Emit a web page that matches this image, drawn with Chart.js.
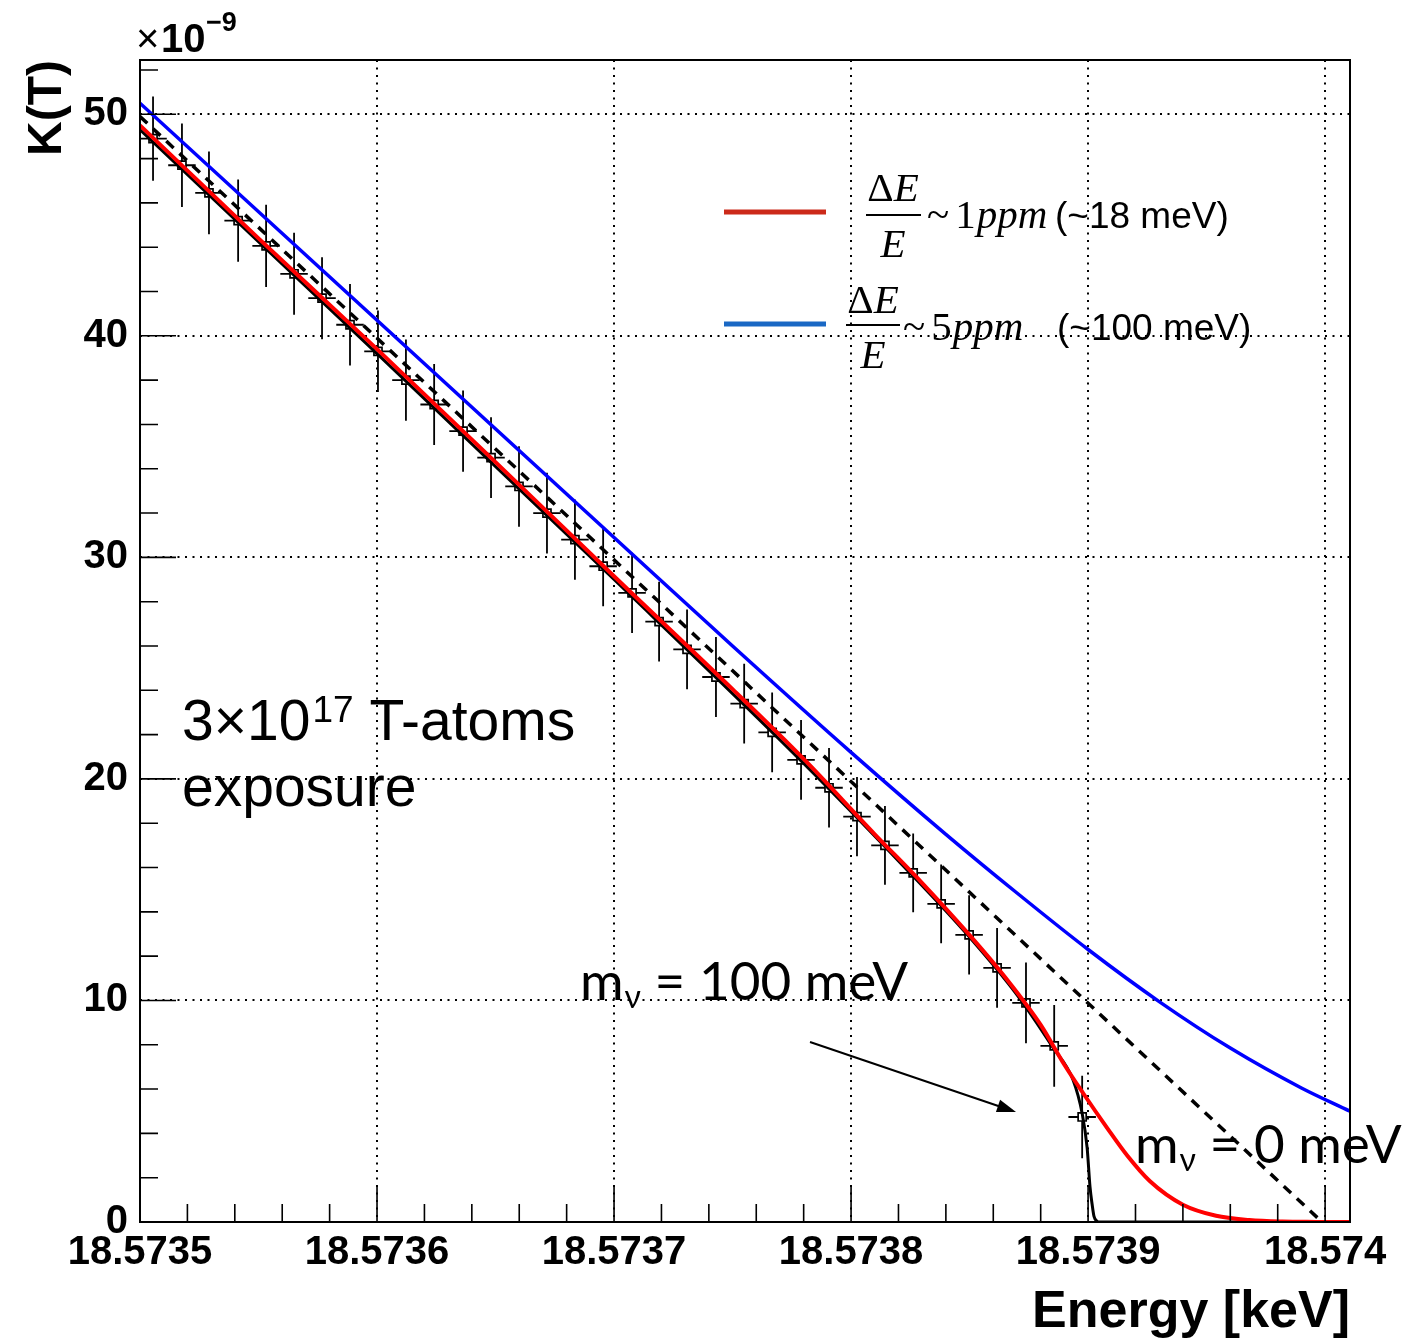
<!DOCTYPE html>
<html>
<head>
<meta charset="utf-8">
<script src="https://cdn.jsdelivr.net/npm/chart.js@4.4.0/dist/chart.umd.min.js"></script>
<style>
  html, body { margin: 0; padding: 0; background: #fff; }
  #wrap { width: 1407px; height: 1339px; }
</style>
</head>
<body>
<div id="wrap"><canvas id="kurie" width="1407" height="1339"></canvas></div>
<script>
// simulated data points (bin centre energy in keV, K(T) in units of 1e-9)
const binEnergy = [
  18.5735055, 18.5735177, 18.5735291, 18.5735414, 18.5735532, 18.5735650,
  18.5735768, 18.5735886, 18.5736004, 18.5736122, 18.5736241, 18.5736363,
  18.5736481, 18.5736599, 18.5736717, 18.5736835, 18.5736954, 18.5737076,
  18.5737190, 18.5737308, 18.5737430, 18.5737549, 18.5737667, 18.5737789,
  18.5737907, 18.5738025, 18.5738143, 18.5738262, 18.5738380, 18.5738498,
  18.5738616, 18.5738738, 18.5738857, 18.5738975
];
const binContent = [
  48.9, 47.7, 46.45, 45.2, 44.06, 42.8, 41.7, 40.5, 39.3, 38.0, 36.9, 35.7,
  34.5, 33.2, 32.0, 30.8, 29.6, 28.4, 27.1, 25.85, 24.6, 23.4, 22.1, 20.86,
  19.6, 18.3, 17.0, 15.76, 14.36, 12.96, 11.47, 9.89, 7.95, 4.74
];
const binError = [
  1.9, 1.88, 1.87, 1.86, 1.86, 1.85, 1.85, 1.84, 1.84, 1.83, 1.83, 1.83,
  1.82, 1.82, 1.82, 1.81, 1.81, 1.81, 1.8, 1.8, 1.8, 1.8, 1.8, 1.8,
  1.79, 1.79, 1.78, 1.78, 1.78, 1.79, 1.8, 1.82, 1.84, 1.86
];
const binHalfWidth = 0.0000058;

// m = 0 meV, no smearing (dashed)
const m0Energy = [18.5735, 18.5739987];
const m0K = [49.9, 0];

// m = 100 meV, no smearing (black)
const m100Energy = [
  18.5735, 18.5736, 18.5737, 18.57378, 18.57382, 18.57385, 18.57387,
  18.573885, 18.5738937, 18.5738975, 18.5738996, 18.5739008, 18.5739017,
  18.5739025, 18.5739038, 18.5739046, 18.5740105
];
const m100K = [
  49.3, 39.2, 29.0, 20.7, 16.3, 12.85, 10.25, 7.9, 6.4, 4.9, 3.35, 1.6,
  0.8, 0.25, 0.03, 0, 0
];

// dE/E ~ 1 ppm (red)
const res1Energy = [
  18.5735, 18.57355, 18.5736, 18.57365, 18.5737, 18.57375, 18.57378,
  18.57381, 18.57383, 18.57385, 18.573865, 18.57388, 18.57389, 18.573898,
  18.573908, 18.5739165, 18.573926, 18.57394, 18.573954, 18.573968,
  18.573982, 18.573996, 18.5740105
];
const res1K = [
  49.5, 44.4, 39.4, 34.3, 29.15, 24.05, 20.9, 17.5, 15.3, 12.95, 11.05,
  8.9, 7.1, 5.8, 4.25, 3.0, 1.85, 0.78, 0.28, 0.09, 0.02, 0.005, 0
];

// dE/E ~ 5 ppm (blue)
const res5Energy = [
  18.5735, 18.5736, 18.5737, 18.57375, 18.5738, 18.57384, 18.57387,
  18.5739, 18.57393, 18.57396, 18.57399, 18.5740105
];
const res5K = [
  50.5, 40.7, 30.9, 26.0, 21.2, 17.5, 14.85, 12.3, 9.95, 7.85, 6.05, 5.0
];

const xTickValues = [18.5735, 18.5736, 18.5737, 18.5738, 18.5739, 18.574];
const xTickLabels = ['18.5735', '18.5736', '18.5737', '18.5738', '18.5739', '18.574'];
const yTickValues = [0, 10, 20, 30, 40, 50];
const yTickLabels = ['0', '10', '20', '30', '40', '50'];

const SANS = '"Liberation Sans", Arial, Helvetica, sans-serif';
const SERIF = '"Liberation Serif", "Times New Roman", serif';
const GILL = 'Lato, "Open Sans", sans-serif';
const markerHalf = 4;

function toPoints(xs, ys) {
  return xs.map((x, i) => ({ x: x, y: ys[i] }));
}

// draws error bars, frame, inner ticks and all the annotations
const rootStyle = {
  id: 'rootStyle',
  beforeDatasetsDraw(chart) {
    const ctx = chart.ctx;
    const xs = chart.scales.x, ys = chart.scales.y;
    ctx.save();
    ctx.strokeStyle = '#000';
    ctx.lineWidth = 1.8;
    binEnergy.forEach((e, i) => {
      const px = xs.getPixelForValue(e);
      const py = ys.getPixelForValue(binContent[i]);
      const top = ys.getPixelForValue(binContent[i] + binError[i]);
      const bot = ys.getPixelForValue(binContent[i] - binError[i]);
      const l = xs.getPixelForValue(e - binHalfWidth);
      const r = xs.getPixelForValue(e + binHalfWidth);
      ctx.beginPath();
      ctx.moveTo(px, top); ctx.lineTo(px, py - markerHalf);
      ctx.moveTo(px, py + markerHalf); ctx.lineTo(px, bot);
      ctx.moveTo(l, py); ctx.lineTo(px - markerHalf, py);
      ctx.moveTo(px + markerHalf, py); ctx.lineTo(r, py);
      ctx.stroke();
    });
    ctx.restore();
  },
  afterDraw(chart) {
    const ctx = chart.ctx;
    const a = chart.chartArea;
    const xs = chart.scales.x, ys = chart.scales.y;
    ctx.save();
    ctx.strokeStyle = '#000';
    ctx.fillStyle = '#000';

    // ticks inside the frame
    ctx.lineWidth = 1.6;
    ctx.beginPath();
    for (let v = 0; v <= ys.max; v += 2) {
      const py = ys.getPixelForValue(v);
      const len = (v % 10 === 0) ? 36 : 18;
      ctx.moveTo(a.left, py); ctx.lineTo(a.left + len, py);
    }
    for (let i = 0; ; i++) {
      const v = 18.5735 + i * 0.00002;
      if (v > xs.max) break;
      const px = xs.getPixelForValue(v);
      const len = (i % 5 === 0) ? 36 : 18;
      ctx.moveTo(px, a.bottom); ctx.lineTo(px, a.bottom - len);
    }
    ctx.stroke();

    // frame
    ctx.lineWidth = 2;
    ctx.strokeRect(a.left, a.top, a.right - a.left, a.bottom - a.top);

    // axis titles
    ctx.textBaseline = 'alphabetic';
    ctx.save();
    ctx.translate(61, 108);
    ctx.rotate(-Math.PI / 2);
    ctx.font = 'bold 48px ' + SANS;
    ctx.textAlign = 'center';
    ctx.fillText('K(T)', 0, 0);
    ctx.restore();

    ctx.textAlign = 'left';
    ctx.font = '40px ' + SANS;
    ctx.fillText('\u00d7', 136, 52);
    ctx.font = 'bold 40px ' + SANS;
    ctx.fillText('10', 161, 52);
    ctx.font = 'bold 27px ' + SANS;
    ctx.fillText('\u22129', 206, 31);

    ctx.textAlign = 'right';
    ctx.font = 'bold 52px ' + SANS;
    ctx.fillText('Energy [keV]', a.right, 1327);

    // exposure note
    ctx.textAlign = 'left';
    let x = 182;
    ctx.font = '57px ' + SANS;
    ctx.fillText('3\u00d710', x, 740);
    x += ctx.measureText('3\u00d710').width + 2;
    ctx.font = '37px ' + SANS;
    ctx.fillText('17', x, 722);
    x += ctx.measureText('17').width;
    ctx.font = '57px ' + SANS;
    ctx.fillText(' T-atoms', x, 740);
    ctx.fillText('exposure', 182, 806);

    // mass labels
    function massLabel(text, x0, y0) {
      ctx.font = '53px ' + GILL;
      ctx.fillText('m', x0, y0);
      let cx = x0 + ctx.measureText('m').width + 1;
      ctx.font = '32px ' + GILL;
      ctx.fillText('\u03bd', cx, y0 + 8);
      cx += ctx.measureText('\u03bd').width;
      ctx.font = '53px ' + GILL;
      ctx.fillText(text, cx, y0);
    }
    massLabel(' = 100 meV', 580, 1000);
    massLabel(' = 0 meV', 1135, 1163);

    // arrow
    ctx.lineWidth = 2;
    const ax0 = 810, ay0 = 1042, ax1 = 1016, ay1 = 1112;
    const ang = Math.atan2(ay1 - ay0, ax1 - ax0);
    ctx.beginPath();
    ctx.moveTo(ax0, ay0);
    ctx.lineTo(ax1 - 14 * Math.cos(ang), ay1 - 14 * Math.sin(ang));
    ctx.stroke();
    ctx.beginPath();
    ctx.moveTo(ax1, ay1);
    ctx.lineTo(ax1 - 19 * Math.cos(ang) + 6.5 * Math.sin(ang), ay1 - 19 * Math.sin(ang) - 6.5 * Math.cos(ang));
    ctx.lineTo(ax1 - 19 * Math.cos(ang) - 6.5 * Math.sin(ang), ay1 - 19 * Math.sin(ang) + 6.5 * Math.cos(ang));
    ctx.closePath();
    ctx.fill();

    // legend
    function legendEntry(color, lineY, cx, numY, barY, barL, barR, denY, tx, num, ty, tail, tailX) {
      ctx.strokeStyle = color;
      ctx.lineWidth = 5;
      ctx.beginPath();
      ctx.moveTo(724, lineY); ctx.lineTo(826, lineY);
      ctx.stroke();
      ctx.strokeStyle = '#000';
      ctx.fillStyle = '#000';
      ctx.textAlign = 'left';
      ctx.font = '41px ' + SERIF;
      const wD = ctx.measureText('\u0394').width;
      ctx.font = 'italic 41px ' + SERIF;
      const wE = ctx.measureText('E').width;
      let sx = cx - (wD + wE) / 2;
      ctx.font = '41px ' + SERIF;
      ctx.fillText('\u0394', sx, numY);
      ctx.font = 'italic 41px ' + SERIF;
      ctx.fillText('E', sx + wD, numY);
      ctx.lineWidth = 2;
      ctx.beginPath();
      ctx.moveTo(barL, barY); ctx.lineTo(barR, barY);
      ctx.stroke();
      ctx.textAlign = 'center';
      ctx.fillText('E', cx, denY);
      ctx.textAlign = 'left';
      ctx.font = '41px ' + SERIF;
      ctx.fillText('~', tx, ty);
      let nx = tx + ctx.measureText('~').width + 6;
      ctx.fillText(num, nx, ty);
      nx += ctx.measureText(num).width + 1;
      ctx.font = 'italic 41px ' + SERIF;
      ctx.fillText('ppm', nx, ty);
      ctx.font = '37px ' + SANS;
      ctx.fillText(tail, tailX, ty);
    }
    legendEntry('#cc2a1a', 212, 893, 201, 215, 866, 921, 257, 927, '1', 228, '(~18 meV)', 1055);
    legendEntry('#1a68c4', 324, 873, 313, 325, 846, 900, 368, 903, '5', 340, '(~100 meV)', 1057);

    ctx.restore();
  }
};

new Chart(document.getElementById('kurie'), {
  type: 'scatter',
  data: {
    datasets: [
      {
        label: 'dE/E ~ 1 ppm',
        data: toPoints(res1Energy, res1K),
        showLine: true, borderColor: '#ff0000', borderWidth: 4,
        pointRadius: 0, cubicInterpolationMode: 'monotone', order: 0
      },
      {
        label: 'm = 100 meV',
        data: toPoints(m100Energy, m100K),
        showLine: true, borderColor: '#000000', borderWidth: 3,
        pointRadius: 0, cubicInterpolationMode: 'monotone', order: 1
      },
      {
        label: 'dE/E ~ 5 ppm',
        data: toPoints(res5Energy, res5K),
        showLine: true, borderColor: '#0000ff', borderWidth: 3.5,
        pointRadius: 0, cubicInterpolationMode: 'monotone', order: 2
      },
      {
        label: 'm = 0 meV',
        data: toPoints(m0Energy, m0K),
        showLine: true, borderColor: '#000000', borderWidth: 3.5,
        borderDash: [10, 8], pointRadius: 0, order: 3
      },
      {
        label: 'simulated',
        data: toPoints(binEnergy, binContent),
        showLine: false, pointStyle: 'rect', pointRadius: 5.7,
        borderColor: '#000000', borderWidth: 1.7,
        backgroundColor: 'rgba(0,0,0,0)', order: 4
      }
    ]
  },
  options: {
    responsive: false,
    animation: false,
    events: [],
    layout: { padding: { left: 0, top: 60, right: 57, bottom: 0 } },
    plugins: {
      legend: { display: false },
      tooltip: { enabled: false }
    },
    scales: {
      x: {
        type: 'linear',
        min: 18.5735,
        max: 18.5740105,
        afterBuildTicks: (scale) => { scale.ticks = xTickValues.map(v => ({ value: v })); },
        afterFit: (scale) => { scale.height = 117; },
        grid: { color: '#000', lineWidth: 2, drawTicks: false },
        border: { display: false, dash: [2, 5.5] },
        ticks: {
          autoSkip: false, maxRotation: 0, padding: 7, color: '#000',
          font: { family: SANS, size: 40, weight: 'bold' },
          callback: (value, index) => xTickLabels[index]
        }
      },
      y: {
        type: 'linear',
        min: 0,
        max: 52.45,
        afterBuildTicks: (scale) => { scale.ticks = yTickValues.map(v => ({ value: v })); },
        afterFit: (scale) => { scale.width = 140; },
        grid: { color: '#000', lineWidth: 2, drawTicks: false },
        border: { display: false, dash: [2, 5.5] },
        ticks: {
          padding: 12, color: '#000',
          font: { family: SANS, size: 40, weight: 'bold' },
          callback: (value, index) => yTickLabels[index]
        }
      }
    }
  },
  plugins: [rootStyle]
});
</script>
</body>
</html>
